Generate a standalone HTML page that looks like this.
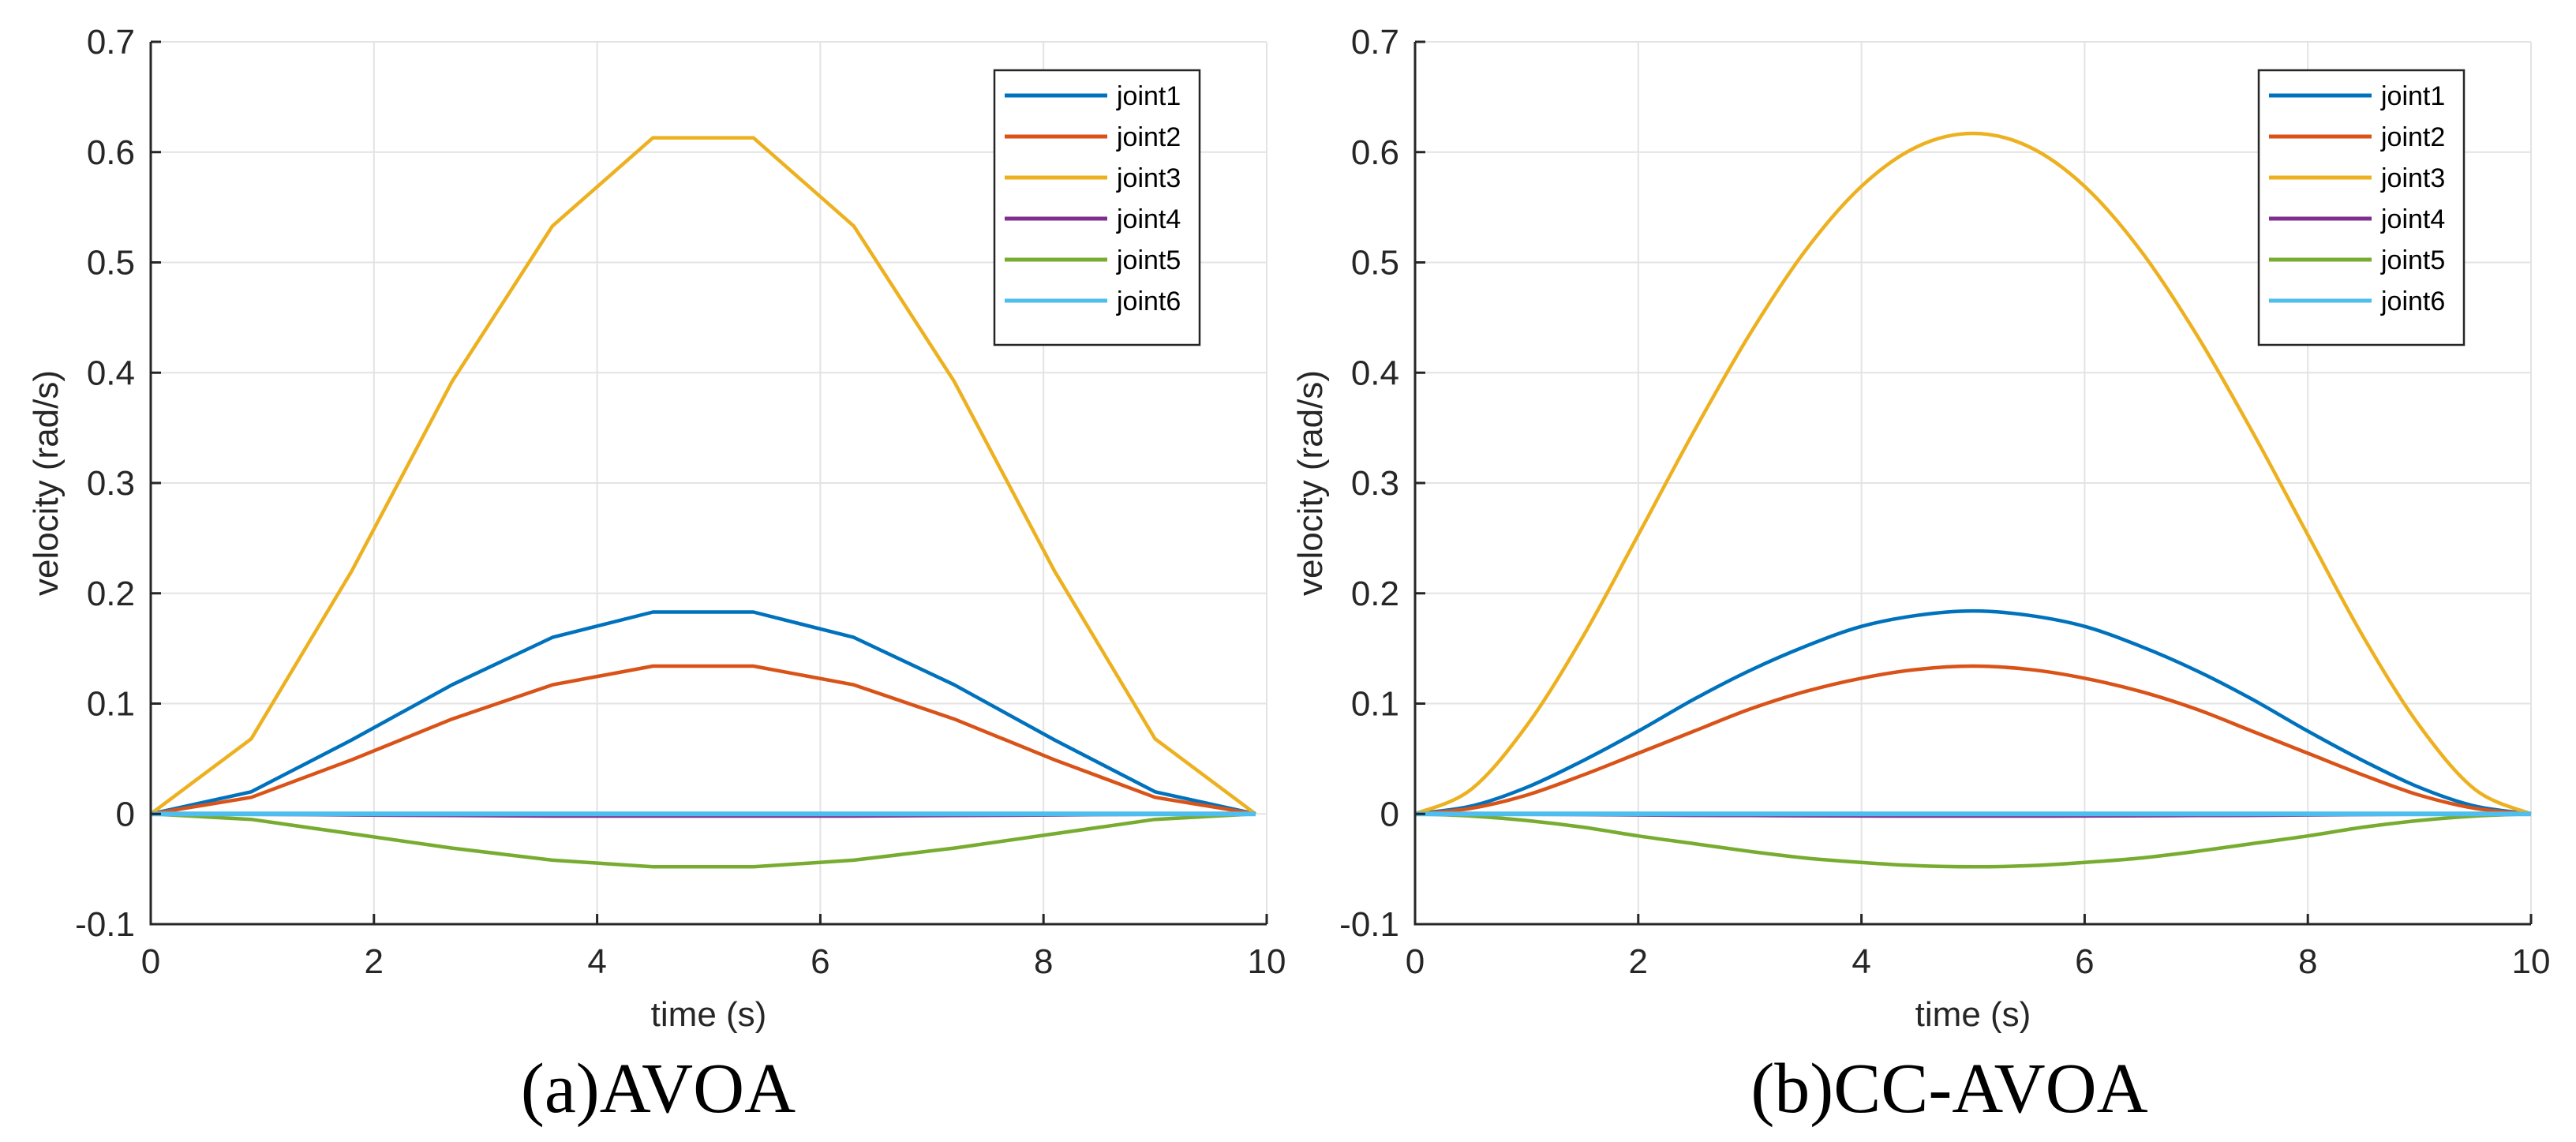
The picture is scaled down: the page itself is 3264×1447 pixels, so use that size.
<!DOCTYPE html>
<html><head><meta charset="utf-8"><style>
html,body{margin:0;padding:0;background:#fff;}
svg{display:block;}
</style></head><body>
<svg id="fig" width="3264" height="1447" xmlns="http://www.w3.org/2000/svg" font-family="Liberation Sans, sans-serif"></svg>
<script>
const xTicks = [0, 2, 4, 6, 8, 10];
const yTicks = [-0.1, 0, 0.1, 0.2, 0.3, 0.4, 0.5, 0.6, 0.7];
const yTickLabels = ['-0.1', '0', '0.1', '0.2', '0.3', '0.4', '0.5', '0.6', '0.7'];
const seriesNames = ['joint1', 'joint2', 'joint3', 'joint4', 'joint5', 'joint6'];
const seriesColors = ['#0072BD', '#D95319', '#EDB120', '#7E2F8E', '#77AC30', '#4DBEEE'];

// (a) AVOA - piecewise linear
const tA = [0, 0.9, 1.8, 2.7, 3.6, 4.5, 5.4, 6.3, 7.2, 8.1, 9.0, 9.9];
const a1 = [0, 0.020, 0.067, 0.117, 0.160, 0.183, 0.183, 0.160, 0.117, 0.067, 0.020, 0];
const a2 = [0, 0.015, 0.049, 0.086, 0.117, 0.134, 0.134, 0.117, 0.086, 0.049, 0.015, 0];
const a3 = [0, 0.068, 0.220, 0.392, 0.533, 0.613, 0.613, 0.533, 0.392, 0.220, 0.068, 0];
const a4 = [0, -0.0003, -0.001, -0.0015, -0.002, -0.002, -0.002, -0.002, -0.0015, -0.001, -0.0003, 0];
const a5 = [0, -0.005, -0.018, -0.031, -0.042, -0.048, -0.048, -0.042, -0.031, -0.018, -0.005, 0];
const a6 = [0, 0, 0, 0, 0, 0, 0, 0, 0, 0, 0, 0];

// (b) CC-AVOA - smooth
const tB = [0, 0.5, 1, 1.5, 2, 2.5, 3, 3.5, 4, 4.5, 5, 5.5, 6, 6.5, 7, 7.5, 8, 8.5, 9, 9.5, 10];
const b1 = [0, 0.007, 0.024, 0.048, 0.075, 0.104, 0.130, 0.152, 0.170, 0.180, 0.184, 0.180, 0.170, 0.152, 0.130, 0.104, 0.075, 0.048, 0.024, 0.007, 0];
const b2 = [0, 0.005, 0.017, 0.035, 0.055, 0.075, 0.095, 0.111, 0.123, 0.131, 0.134, 0.131, 0.123, 0.111, 0.095, 0.075, 0.055, 0.035, 0.017, 0.005, 0];
const b3 = [0, 0.022, 0.080, 0.160, 0.253, 0.347, 0.435, 0.511, 0.569, 0.605, 0.617, 0.605, 0.569, 0.511, 0.435, 0.347, 0.253, 0.160, 0.080, 0.022, 0];
const b4 = [0, -0.0001, -0.0003, -0.0006, -0.001, -0.0013, -0.0015, -0.0017, -0.0019, -0.002, -0.002, -0.002, -0.0019, -0.0017, -0.0015, -0.0013, -0.001, -0.0006, -0.0003, -0.0001, 0];
const b5 = [0, -0.002, -0.006, -0.012, -0.020, -0.027, -0.034, -0.040, -0.044, -0.047, -0.048, -0.047, -0.044, -0.040, -0.034, -0.027, -0.020, -0.012, -0.006, -0.002, 0];
const b6 = [0, 0, 0, 0, 0, 0, 0, 0, 0, 0, 0, 0, 0, 0, 0, 0, 0, 0, 0, 0, 0];

const NS = 'http://www.w3.org/2000/svg';
const svg = document.getElementById('fig');
function mk(tag, attrs, parent) {
  const e = document.createElementNS(NS, tag);
  for (const k in attrs) e.setAttribute(k, attrs[k]);
  (parent || svg).appendChild(e);
  return e;
}

function drawPanel(px, key, tArr, series, smooth, caption, capX) {
  const W = 1414, top = 53, bot = 1171;
  const xs = v => px + v / 10 * W;
  const ys = v => bot - (v + 0.1) / 0.8 * (bot - top);
  const g = mk('g', {});
  
  
  // grid
  xTicks.forEach(v => {
    const l = mk('line', {x1: xs(v), x2: xs(v), y1: top, y2: bot, stroke: '#e3e3e3', 'stroke-width': 2}, g);
    
    
  });
  yTicks.forEach(v => {
    const l = mk('line', {x1: px, x2: px + W, y1: ys(v), y2: ys(v), stroke: '#e3e3e3', 'stroke-width': 2}, g);
    
    
  });
  // series
  series.forEach((vals, i) => {
    let d;
    const P = tArr.map((t, j) => [xs(t), ys(vals[j])]);
    if (!smooth) {
      d = P.map((p, j) => (j ? 'L' : 'M') + p[0].toFixed(1) + ',' + p[1].toFixed(1)).join('');
    } else {
      d = 'M' + P[0][0] + ',' + P[0][1];
      for (let j = 0; j < P.length - 1; j++) {
        const p0 = P[Math.max(0, j - 1)], p1 = P[j], p2 = P[j + 1], p3 = P[Math.min(P.length - 1, j + 2)];
        const c1 = [p1[0] + (p2[0] - p0[0]) / 6, p1[1] + (p2[1] - p0[1]) / 6];
        const c2 = [p2[0] - (p3[0] - p1[0]) / 6, p2[1] - (p3[1] - p1[1]) / 6];
        d += 'C' + c1[0].toFixed(1) + ',' + c1[1].toFixed(1) + ' ' + c2[0].toFixed(1) + ',' + c2[1].toFixed(1) + ' ' + p2[0].toFixed(1) + ',' + p2[1].toFixed(1);
      }
    }
    const path = mk('path', {d: d, fill: 'none', stroke: seriesColors[i], 'stroke-width': i === 5 ? 6 : 4.5, 'stroke-linejoin': 'round'}, g);
    
    
  });
  // axes
  const ax = mk('path', {d: 'M' + px + ',' + top + 'L' + px + ',' + bot + 'L' + (px + W) + ',' + bot, fill: 'none', stroke: '#262626', 'stroke-width': 3}, g);
  
  
  xTicks.forEach(v => {
    mk('line', {x1: xs(v), x2: xs(v), y1: bot, y2: bot - 13, stroke: '#262626', 'stroke-width': 3}, g);
    const t = mk('text', {x: xs(v), y: 1233, 'font-size': 44, fill: '#262626', 'text-anchor': 'middle'}, g);
    t.textContent = String(v);
    
    
  });
  yTicks.forEach((v, i) => {
    mk('line', {x1: px, x2: px + 13, y1: ys(v), y2: ys(v), stroke: '#262626', 'stroke-width': 3}, g);
    const t = mk('text', {x: px - 20, y: ys(v) + 15, 'font-size': 44, fill: '#262626', 'text-anchor': 'end'}, g);
    t.textContent = yTickLabels[i];
    
    
  });
  const xl = mk('text', {x: px + W / 2, y: 1300, 'font-size': 44, fill: '#262626', 'text-anchor': 'middle'}, g);
  xl.textContent = 'time (s)';
  
  
  const yl = mk('text', {x: 0, y: 0, 'font-size': 44, fill: '#262626', 'text-anchor': 'middle', transform: 'translate(' + (px - 118) + ',612) rotate(-90)'}, g);
  yl.textContent = 'velocity (rad/s)';
  
  
  // legend
  const lx = px + 1069, ly = 89;
  const lg = mk('g', {}, g);
  
  
  mk('rect', {x: lx, y: ly, width: 260, height: 348, fill: '#fff', stroke: '#262626', 'stroke-width': 2.5}, lg);
  seriesNames.forEach((n, i) => {
    const yy = ly + 32 + i * 52;
    const s = mk('line', {x1: lx + 13, x2: lx + 143, y1: yy, y2: yy, stroke: seriesColors[i], 'stroke-width': 5}, lg);
    
    
    const t = mk('text', {x: lx + 155, y: yy + 12, 'font-size': 34, fill: '#000'}, lg);
    t.textContent = n;
    
    
  });
  const cap = mk('text', {x: capX, y: 1409, 'font-size': 90, fill: '#000', 'text-anchor': 'middle', 'font-family': 'Liberation Serif, serif'});
  cap.textContent = caption;
  
  
}

drawPanel(191, 'avoa', tA, [a1, a2, a3, a4, a5, a6], false, '(a)AVOA', 834);
drawPanel(1793, 'cc-avoa', tB, [b1, b2, b3, b4, b5, b6], true, '(b)CC-AVOA', 2470);
</script>
</body></html>
